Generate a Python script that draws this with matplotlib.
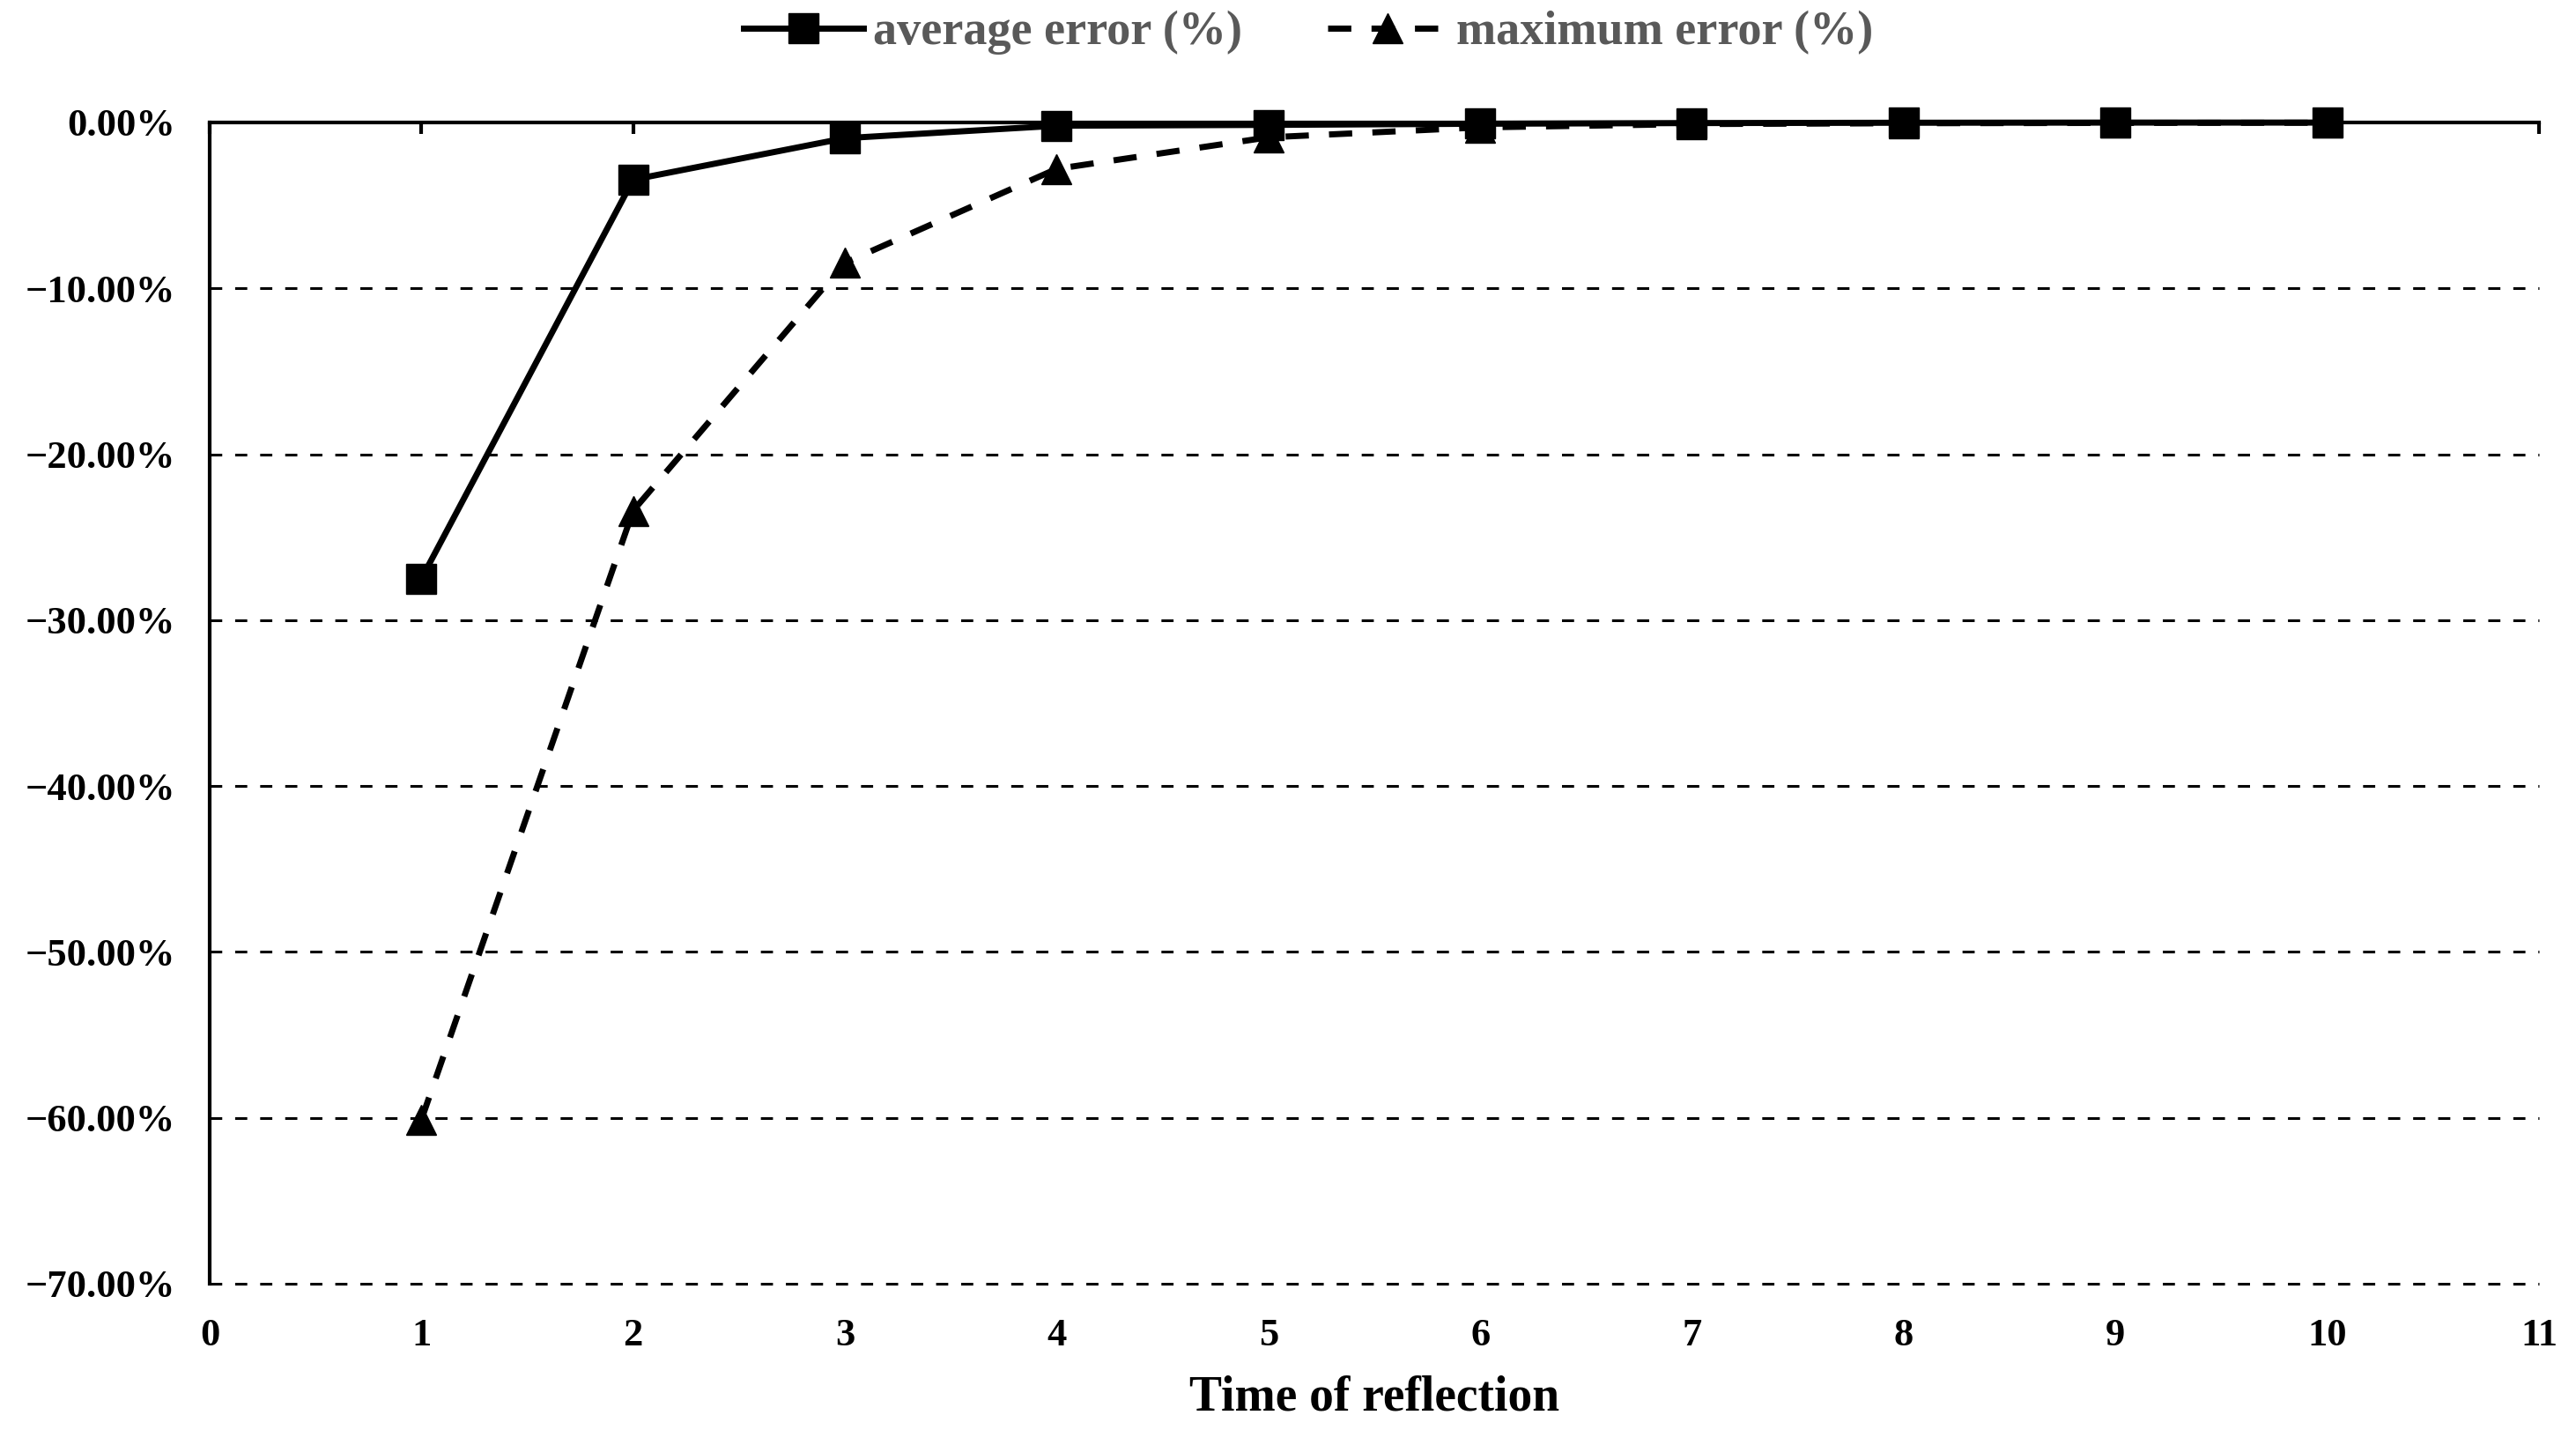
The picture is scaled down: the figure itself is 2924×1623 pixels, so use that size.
import matplotlib
matplotlib.use("Agg")
import matplotlib.pyplot as plt
from matplotlib.ticker import FuncFormatter

# Data (percent)
reflections = [1, 2, 3, 4, 5, 6, 7, 8, 9, 10]
average_error = [-27.5, -3.45, -0.95, -0.2, -0.15, -0.08, -0.04, -0.02, -0.01, -0.01]
maximum_error = [-60.1, -23.4, -8.46, -2.8, -0.9, -0.3, -0.1, -0.05, -0.03, -0.02]
x_ticks = list(range(0, 12))
y_ticks = [0, -10, -20, -30, -40, -50, -60, -70]

plt.rcParams['font.family'] = ['Liberation Serif', 'DejaVu Serif']
plt.rcParams['font.weight'] = 'bold'

fig = plt.figure(figsize=(29.24, 16.23), dpi=100)
ax = fig.add_axes([0.0814, 0.1023, 0.9042, 0.8121])

ax.set_xlim(0, 11)
ax.set_ylim(-70, 0)

# gridlines
for yv in y_ticks[1:]:
    ax.axhline(yv, color='black', lw=2.2, linestyle=(0, (4.5, 4.8)), zorder=1, clip_on=False)

lm, = ax.plot(reflections, maximum_error, color='black', lw=5, marker='^',
              markersize=25, clip_on=False, zorder=3, label='maximum error (%)')
lm.set_dashes((3.8, 3.3))
la, = ax.plot(reflections, average_error, color='black', lw=5, marker='s',
              markersize=24, clip_on=False, zorder=4, label='average error (%)')

ax.spines['right'].set_visible(False)
ax.spines['bottom'].set_visible(False)
ax.spines['top'].set_linewidth(3)
ax.spines['left'].set_linewidth(3)

ax.set_xticks(x_ticks)
ax.set_yticks(y_ticks)
ax.yaxis.set_major_formatter(FuncFormatter(lambda v, p: ('\u2212' if v < 0 else '') + f"{abs(v):.2f}%"))
ax.tick_params(axis='x', top=True, bottom=False, labelbottom=True, labeltop=False,
               direction='in', length=9, width=3, labelsize=32, pad=28)
ax.tick_params(axis='y', length=0, labelsize=32, pad=28)
for t in ax.get_xticklabels() + ax.get_yticklabels():
    t.set_fontweight('bold')

ax.set_xlabel('Time of reflection', fontsize=40, fontweight='bold', labelpad=18)

leg = fig.legend(handles=[la, lm], loc='center', bbox_to_anchor=(0.508, 0.977), ncol=2,
                 frameon=False, fontsize=39, handlelength=2.5, handletextpad=0.2,
                 columnspacing=1.8)
for t in leg.get_texts():
    t.set_color('#595959')
    t.set_fontweight('bold')

fig.savefig('out.png', dpi=100)
